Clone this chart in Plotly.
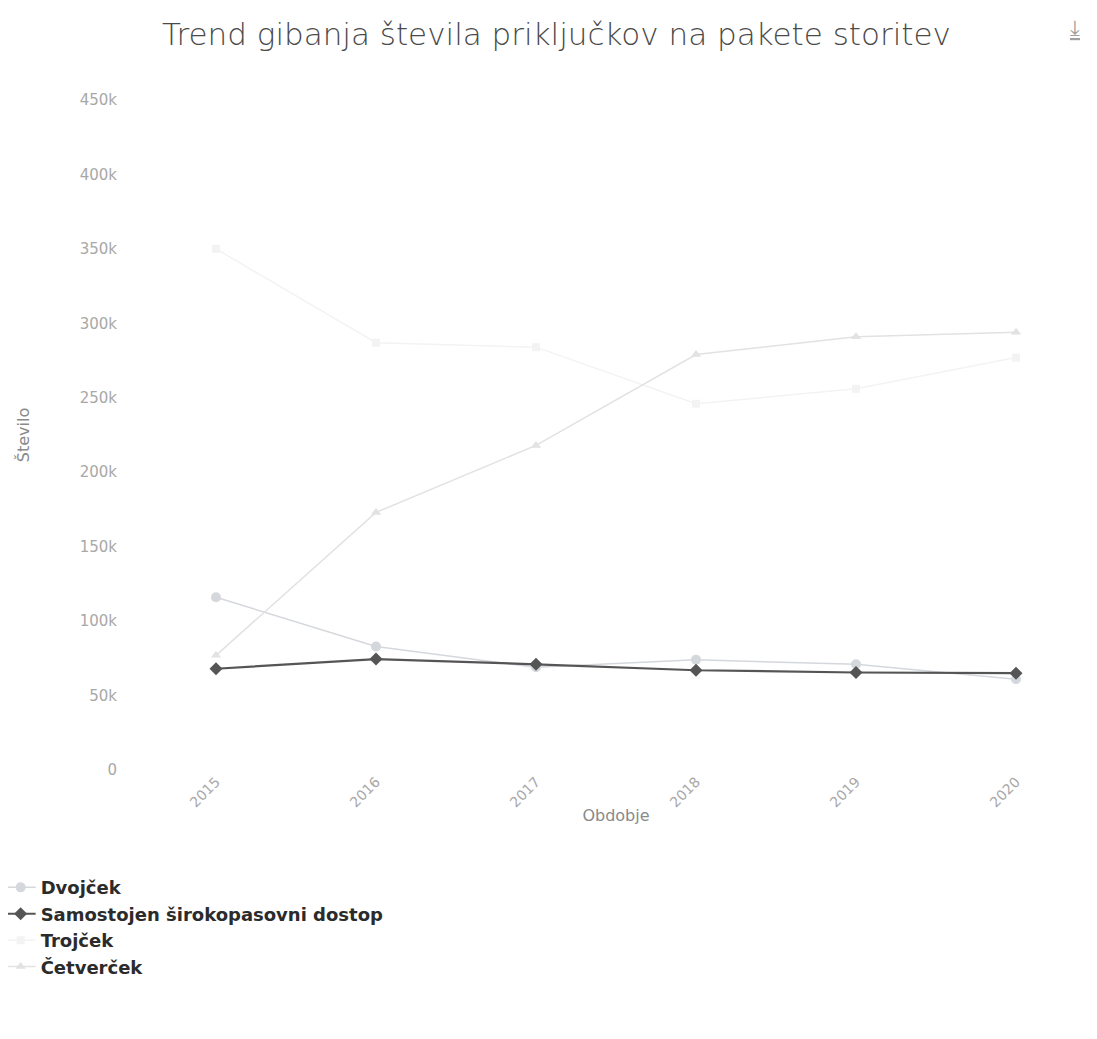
import plotly.graph_objects as go

# ── Data ──
LETA = ["2015", "2016", "2017", "2018", "2019", "2020"]
DVOJCEK = [116000, 83000, 69000, 74000, 71000, 61000]
SAMOSTOJEN = [68000, 74500, 71000, 67000, 65500, 65000]
TROJCEK = [350000, 287000, 284000, 246000, 256000, 277000]
CETVERCEK = [77000, 173000, 218000, 279000, 291000, 294000]

Y_TICKS = [0, 50000, 100000, 150000, 200000, 250000, 300000, 350000, 400000, 450000]
Y_TICK_TEXT = ["0", "50k", "100k", "150k", "200k", "250k", "300k", "350k", "400k", "450k"]

TITLE = "Trend gibanja števila priključkov na pakete storitev"

# ── Styling ──
FONT = "'DejaVu Sans', sans-serif"
AXIS_COLOR = "#a8a8a8"
LEGEND_COLOR = "#2b2b2b"

series = [
    ("Dvojček", DVOJCEK, "#d4d7dc", "circle", 10),
    ("Samostojen širokopasovni dostop", SAMOSTOJEN, "#555555", "diamond", 10),
    ("Trojček", TROJCEK, "#f3f3f3", "square", 8),
    ("Četverček", CETVERCEK, "#e2e2e2", "triangle-up", 9),
]

fig = go.Figure()
for name, values, color, symbol, size in series:
    fig.add_trace(go.Scatter(
        x=LETA, y=values,
        mode="lines+markers",
        name=name,
        legendgroup=name,
        line=dict(color=color, width=2.2 if symbol == "diamond" else 1.5),
        marker=dict(color=color, symbol=symbol, size=size),
    ))

fig.update_layout(
    width=1097,
    height=1039,
    plot_bgcolor="white",
    paper_bgcolor="white",
    font=dict(family=FONT, color=AXIS_COLOR),
    title=dict(
        text=TITLE,
        font=dict(size=31, color="#4a4a4a", family=FONT, weight=300),
        x=0.5, xanchor="center",
        y=0.975, yanchor="middle",
    ),
    margin=dict(l=128, r=9, t=92, b=277, autoexpand=False),
    showlegend=True,
    legend=dict(
        orientation="v",
        x=-0.141, xanchor="left",
        y=-0.148, yanchor="top",
        font=dict(size=18, color=LEGEND_COLOR, family=FONT, weight="bold"),
        itemwidth=30,
        tracegroupgap=0,
    ),
)

fig.update_xaxes(
    type="category",
    range=[-0.5, 5.5],
    automargin=False,
    showgrid=False,
    showline=False,
    zeroline=False,
    ticks="",
    tickangle=-45,
    tickfont=dict(size=14, color=AXIS_COLOR),
    title=dict(text="Obdobje", font=dict(size=16, color="#8a8a8a"), standoff=0),
)
fig.update_yaxes(
    range=[0, 450000],
    automargin=False,
    tickvals=Y_TICKS,
    ticktext=Y_TICK_TEXT,
    showgrid=False,
    showline=False,
    zeroline=False,
    ticks="",
    ticklabelstandoff=18,
    tickfont=dict(size=15, color=AXIS_COLOR),
    title=dict(text="Število", font=dict(size=16, color="#8a8a8a"), standoff=46),
)

# download icon in the top-right corner
fig.add_annotation(
    text="<u>⤓</u>",
    xref="paper", yref="paper",
    x=0.978, y=1.107, xanchor="center", yanchor="middle",
    showarrow=False,
    font=dict(size=22, color="#a0a0a0"),
)

fig.write_html("out.html")
